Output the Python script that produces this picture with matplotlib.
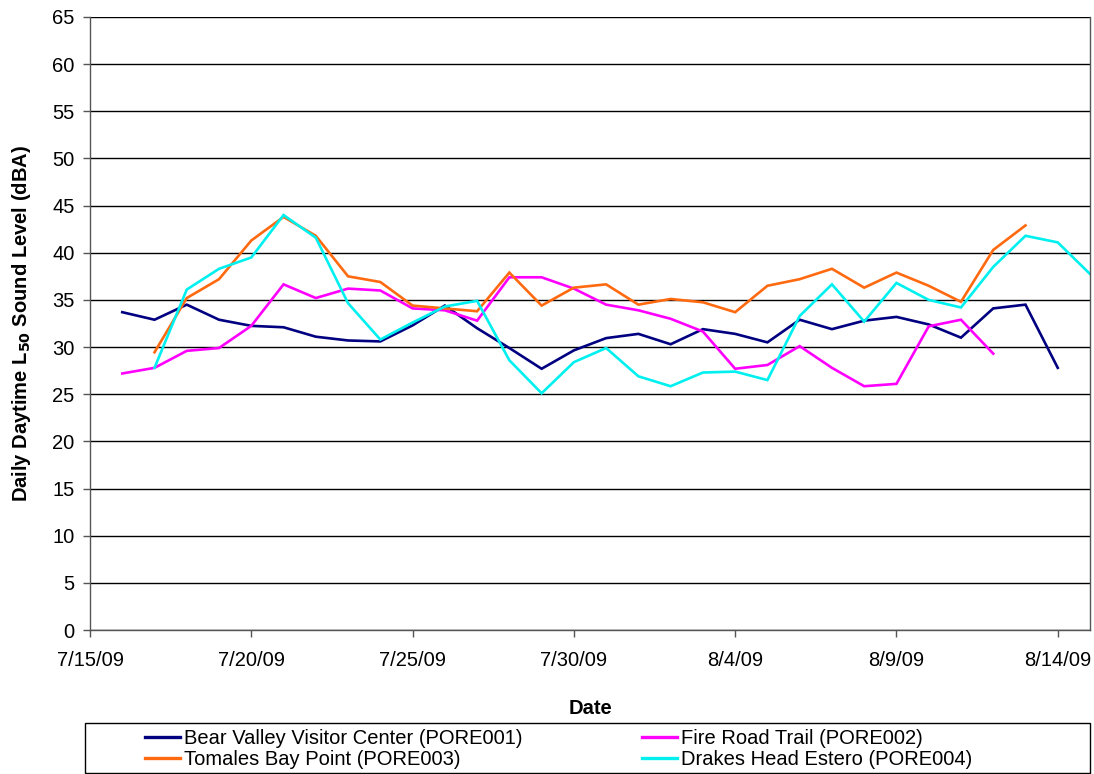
import datetime as dt
import numpy as np
import matplotlib
matplotlib.use("Agg")
import matplotlib.pyplot as plt
import matplotlib.dates as mdates
from matplotlib.ticker import FuncFormatter, MultipleLocator
from matplotlib.patches import Rectangle

plt.rcParams['font.family'] = ['Liberation Sans', 'DejaVu Sans']

# Data (daily L50 dBA)
bear_start = dt.date(2009, 7, 16)
bear = [33.7, 32.9, 34.5, 32.9, 32.25, 32.1, 31.1, 30.7, 30.6, 32.3, 34.4, 32.0,
        29.9, 27.7, 29.65, 30.95, 31.4, 30.3, 31.9, 31.4, 30.5, 32.9, 31.9, 32.8,
        33.2, 32.4, 31.0, 34.1, 34.5, 27.8]

fire_start = dt.date(2009, 7, 16)
fire = [27.2, 27.8, 29.6, 29.9, 32.25, 36.65, 35.2, 36.2, 36.0, 34.1, 33.9, 32.8,
        37.4, 37.4, 36.2, 34.5, 33.9, 33.0, 31.65, 27.7, 28.1, 30.1, 27.8, 25.85,
        26.1, 32.2, 32.9, 29.3]

tomales_start = dt.date(2009, 7, 17)
tomales = [29.45, 35.2, 37.2, 41.3, 43.8, 41.8, 37.5, 36.9, 34.4, 34.1, 33.8, 37.9,
           34.4, 36.3, 36.65, 34.5, 35.1, 34.75, 33.7, 36.5, 37.2, 38.3, 36.3, 37.9,
           36.5, 34.8, 40.3, 42.9]

drakes_start = dt.date(2009, 7, 17)
drakes = [27.8, 36.1, 38.3, 39.5, 44.0, 41.6, 34.65, 30.8, 32.6, 34.3, 34.9, 28.6,
          25.1, 28.4, 29.9, 26.9, 25.85, 27.3, 27.4, 26.5, 33.3, 36.65, 32.7, 36.8,
          35.0, 34.2, 38.5, 41.8, 41.1, 37.75]

labels = ["Bear Valley Visitor Center (PORE001)", "Fire Road Trail (PORE002)",
          "Tomales Bay Point (PORE003)", "Drakes Head Estero (PORE004)"]
colors = ["#000080", "#FF00FF", "#FF6A10", "#00F0F0"]

def dates_for(start, vals):
    return [start + dt.timedelta(days=i) for i in range(len(vals))]

W, H = 1094, 774
fig = plt.figure(figsize=(W / 100, H / 100), dpi=100)
ax = fig.add_axes([90 / W, (H - 630) / H, 1000 / W, 613 / H])

series = [(bear_start, bear), (fire_start, fire), (tomales_start, tomales), (drakes_start, drakes)]
handles = []
for (s, v), lab, c in zip(series, labels, colors):
    h, = ax.plot(dates_for(s, v), v, color=c, lw=1.9, label=lab, solid_joinstyle='miter')
    handles.append(h)

ax.set_ylim(0, 65)
ax.yaxis.set_major_locator(MultipleLocator(5))
ax.set_xlim(mdates.date2num(dt.date(2009, 7, 15)), mdates.date2num(dt.date(2009, 8, 15)))
xt = [dt.date(2009, 7, 15) + dt.timedelta(days=5 * i) for i in range(7)]
ax.set_xticks(mdates.date2num(xt))
ax.xaxis.set_major_formatter(FuncFormatter(
    lambda x, p: (lambda d: f"{d.month}/{d.day}/{d.strftime('%y')}")(mdates.num2date(x))))

ax.grid(axis='y', color='black', lw=1.0)
ax.set_axisbelow(True)
for sp in ax.spines.values():
    sp.set_color('#555555')
    sp.set_linewidth(1.0)
ax.spines['top'].set_visible(False)
ax.tick_params(axis='both', direction='out', length=5, width=1, color='#555555', labelsize=14.5)
ax.tick_params(axis='x', pad=10)
ax.tick_params(axis='y', pad=6)

ax.set_ylabel("Daily Daytime L$_{\\mathbf{50}}$ Sound Level (dBA)", fontsize=14.5, fontweight='bold', labelpad=14)
ax.set_xlabel("Date", fontsize=14.5, fontweight='bold', labelpad=21)

# legend frame and entries (row-wise order like the reference)
fig.patches.append(Rectangle((85 / W, (H - 773) / H), 1005 / W, 50 / H,
                             transform=fig.transFigure, fill=False,
                             edgecolor='black', lw=1.0))
order = [0, 2, 1, 3]
leg = fig.legend(handles=[handles[i] for i in order], labels=[labels[i] for i in order],
                 loc='center left', ncol=2, bbox_to_anchor=(145 / W, (H - 749) / H),
                 fontsize=14.5, frameon=False, handlelength=1.75,
                 handletextpad=0.2, borderpad=0.0, labelspacing=0.08,
                 columnspacing=5.9, borderaxespad=0.0)
for l in leg.get_lines():
    l.set_linewidth(2.4)

fig.savefig("out.png", dpi=100)
